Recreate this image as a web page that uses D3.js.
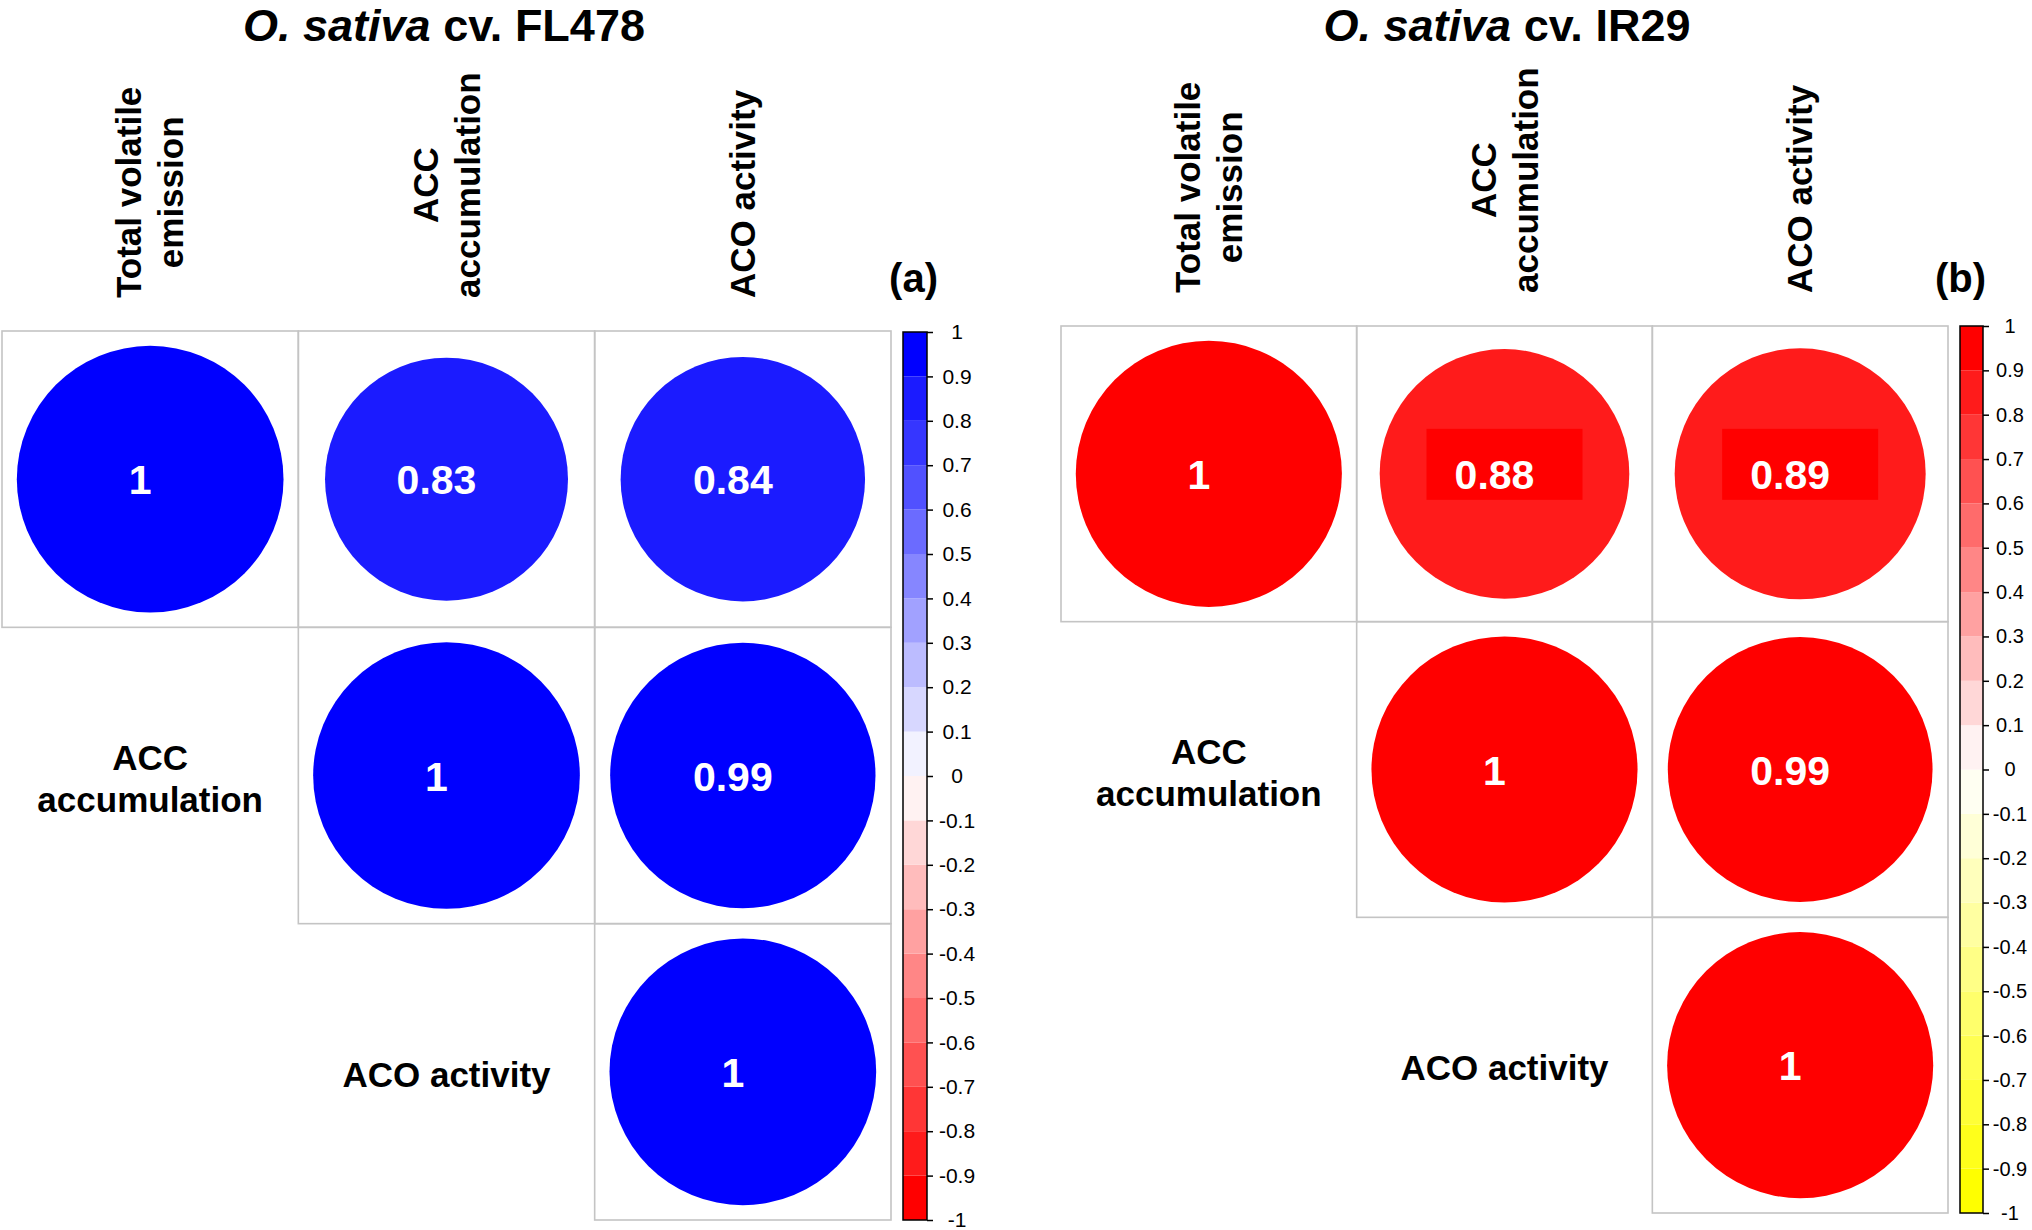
<!DOCTYPE html>
<html>
<head>
<meta charset="utf-8">
<script src="https://cdn.jsdelivr.net/npm/d3@7"></script>
<style>
  body { margin: 0; background: #fff; }
  svg { display: block; font-family: "Liberation Sans", Arial, sans-serif; }
</style>
</head>
<body>
<svg width="2032" height="1230"></svg>
<script>
// variables (rows / columns of the correlation matrix)
var variables = ["Total volatile emission", "ACC accumulation", "ACO activity"];
var labelLines = [["Total volatile", "emission"], ["ACC", "accumulation"], ["ACO activity"]];

// correlation coefficients
var fl478 = [
  [1, 0.83, 0.84],
  [0.83, 1, 0.99],
  [0.84, 0.99, 1]
];
var ir29 = [
  [1, 0.88, 0.89],
  [0.88, 1, 0.99],
  [0.89, 0.99, 1]
];

// colour legend ticks
var legendTicks = [1, 0.9, 0.8, 0.7, 0.6, 0.5, 0.4, 0.3, 0.2, 0.1, 0,
  -0.1, -0.2, -0.3, -0.4, -0.5, -0.6, -0.7, -0.8, -0.9, -1];

var svg = d3.select("svg");
svg.append("rect").attr("width", 2032).attr("height", 1230).attr("fill", "#fff");

// 20 colours like colorRampPalette(...)(20)
function palette(stops) {
  var interp = d3.piecewise(d3.interpolateRgb, stops);
  return d3.range(20).map(function (i) { return d3.color(interp(i / 19)).formatHex(); });
}

function drawPanel(opt) {
  var g = svg.append("g");
  var cols = opt.colors;
  var color = d3.scaleQuantize().domain([-1, 1]).range(cols);

  var x = d3.scaleBand().domain(variables).range([opt.left, opt.right]);
  var y = d3.scaleBand().domain(variables).range([opt.top, opt.bottom]);
  var cell = x.bandwidth();
  var r = d3.scaleSqrt().domain([0, 1]).range([0, cell * 0.45]);

  // upper triangle cells
  var cells = [];
  opt.data.forEach(function (row, i) {
    row.forEach(function (v, j) {
      if (j >= i) cells.push({ i: i, j: j, v: v });
    });
  });

  g.selectAll("rect.cell")
    .data(cells)
    .join("rect")
    .attr("class", "cell")
    .attr("x", function (d) { return x(variables[d.j]); })
    .attr("y", function (d) { return y(variables[d.i]); })
    .attr("width", cell)
    .attr("height", cell)
    .attr("fill", "none")
    .attr("stroke", "#c4c4c4")
    .attr("stroke-width", 1.6);

  g.selectAll("circle")
    .data(cells)
    .join("circle")
    .attr("cx", function (d) { return x(variables[d.j]) + cell / 2; })
    .attr("cy", function (d) { return y(variables[d.i]) + cell / 2; })
    .attr("r", function (d) { return r(Math.abs(d.v)); })
    .attr("fill", function (d) { return color(d.v); });

  // label background boxes (panel b only)
  if (opt.labelBox) {
    g.selectAll("rect.lbox")
      .data(cells.filter(function (d) { return d.i !== d.j; }))
      .join("rect")
      .attr("class", "lbox")
      .attr("x", function (d) { return x(variables[d.j]) + cell / 2 - 78; })
      .attr("y", function (d) { return y(variables[d.i]) + cell / 2 - 45; })
      .attr("width", 156)
      .attr("height", 71)
      .attr("fill", opt.labelBox);
  }

  g.selectAll("text.val")
    .data(cells)
    .join("text")
    .attr("class", "val")
    .attr("x", function (d) { return x(variables[d.j]) + cell / 2 - 10; })
    .attr("y", function (d) { return y(variables[d.i]) + cell / 2 + 15; })
    .attr("text-anchor", "middle")
    .attr("fill", "#fff")
    .attr("font-weight", "bold")
    .attr("font-size", 41)
    .text(function (d) { return String(d.v); });

  // column labels (rotated)
  var fs = 35, lh = 42;
  variables.forEach(function (v, j) {
    var lines = labelLines[j];
    var cx = x(v) + cell / 2;
    var lg = g.append("g");
    var texts = lines.map(function (t, k) {
      return lg.append("text")
        .attr("text-anchor", "middle")
        .attr("font-weight", "bold")
        .attr("font-size", fs)
        .text(t);
    });
    var maxLen = d3.max(texts, function (t) { return t.node().getComputedTextLength(); });
    var yc = opt.top - 33 - maxLen / 2;
    texts.forEach(function (t, k) {
      var base = cx + (k - (lines.length - 1) / 2) * lh + fs * 0.35;
      t.attr("transform", "translate(" + base + "," + yc + ") rotate(-90)");
    });
  });

  // row labels (left of diagonal cell)
  variables.forEach(function (v, i) {
    if (i === 0) return;
    var lines = labelLines[i];
    var cx = x(variables[i - 1]) + cell / 2;
    var cy = y(v) + cell / 2;
    lines.forEach(function (t, k) {
      g.append("text")
        .attr("x", cx)
        .attr("y", cy + (k - (lines.length - 1) / 2) * lh + fs * 0.35 + 3)
        .attr("text-anchor", "middle")
        .attr("font-weight", "bold")
        .attr("font-size", fs)
        .text(t);
    });
  });

  // colour legend
  var ly = d3.scaleLinear().domain([-1, 1]).range([opt.bottom2, opt.top2]);
  var bins = d3.range(20);
  g.selectAll("rect.bin")
    .data(bins)
    .join("rect")
    .attr("class", "bin")
    .attr("x", opt.barX)
    .attr("y", function (k) { return ly(-1 + (k + 1) * 0.1); })
    .attr("width", opt.barW)
    .attr("height", function (k) { return ly(-1 + k * 0.1) - ly(-1 + (k + 1) * 0.1); })
    .attr("fill", function (k) { return cols[k]; });
  g.append("rect")
    .attr("x", opt.barX)
    .attr("y", opt.top2)
    .attr("width", opt.barW)
    .attr("height", opt.bottom2 - opt.top2)
    .attr("fill", "none")
    .attr("stroke", "#000")
    .attr("stroke-width", 1.5);

  var axis = d3.axisRight(ly)
    .tickValues(legendTicks)
    .tickSize(6)
    .tickFormat(function (d) { return String(Math.round(d * 10) / 10); });
  var ag = g.append("g")
    .attr("transform", "translate(" + (opt.barX + opt.barW) + ",0)")
    .call(axis);
  ag.select(".domain").remove();
  ag.selectAll(".tick line").attr("stroke", "#000").attr("stroke-width", 1.5);
  ag.selectAll(".tick text")
    .attr("x", opt.labelDx)
    .attr("text-anchor", "middle")
    .attr("font-size", opt.labelSize)
    .attr("font-family", "Liberation Sans, Arial, sans-serif")
    .attr("fill", "#000");

  // title
  var title = g.append("text")
    .attr("x", opt.titleX)
    .attr("y", 41)
    .attr("text-anchor", "middle")
    .attr("font-weight", "bold")
    .attr("font-size", 45);
  title.append("tspan").attr("font-style", "italic").text("O. sativa");
  title.append("tspan").text(" cv. " + opt.cultivar);

  g.append("text")
    .attr("x", opt.tagX)
    .attr("y", 292)
    .attr("text-anchor", "end")
    .attr("font-weight", "bold")
    .attr("font-size", 40)
    .text(opt.tag);
}

drawPanel({
  data: fl478,
  colors: palette(["#FF0000", "#FFFFFF", "#0000FF"]),
  left: 2, right: 891, top: 331, bottom: 1220,
  barX: 903, barW: 24, top2: 332, bottom2: 1220,
  labelDx: 30, labelSize: 21,
  titleX: 444, cultivar: "FL478",
  tagX: 938, tag: "(a)"
});

drawPanel({
  data: ir29,
  colors: palette(["#FFFF00", "#FFFFFF", "#FF0000"]),
  left: 1061, right: 1948, top: 326, bottom: 1213,
  barX: 1960, barW: 23, top2: 326, bottom2: 1213,
  labelDx: 27, labelSize: 20,
  titleX: 1507, cultivar: "IR29",
  tagX: 1986, tag: "(b)",
  labelBox: "#FF0000"
});
</script>
</body>
</html>
